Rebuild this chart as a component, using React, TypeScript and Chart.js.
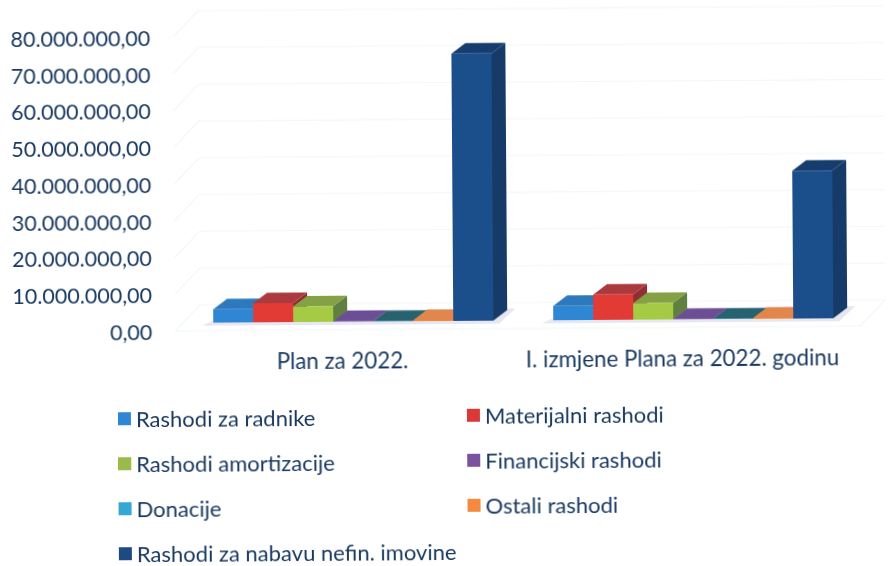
import React, { useEffect, useRef } from "react";
import { Chart, registerables } from "chart.js";

Chart.register(...registerables);

const categories = ["Plan za 2022.", "I. izmjene Plana za 2022. godinu"];
const seriesNames = [
  "Rashodi za radnike",
  "Materijalni rashodi",
  "Rashodi amortizacije",
  "Financijski rashodi",
  "Donacije",
  "Ostali rashodi",
  "Rashodi za nabavu nefin. imovine",
];
const rashodiZaRadnike = [3600000, 3900000];
const materijalniRashodi = [5200000, 6900000];
const rashodiAmortizacije = [4200000, 4500000];
const financijskiRashodi = [120000, 100000];
const donacije = [60000, 60000];
const ostaliRashodi = [250000, 250000];
const nabavaNefinImovine = [72700000, 40200000];
const seriesValues = [
  rashodiZaRadnike,
  materijalniRashodi,
  rashodiAmortizacije,
  financijskiRashodi,
  donacije,
  ostaliRashodi,
  nabavaNefinImovine,
];
const yTickLabels = [
  "0,00",
  "10.000.000,00",
  "20.000.000,00",
  "30.000.000,00",
  "40.000.000,00",
  "50.000.000,00",
  "60.000.000,00",
  "70.000.000,00",
  "80.000.000,00",
];

const frontColors = ["#2f86d2", "#e23b36", "#a5cb45", "#7d509f", "#36a9d6", "#f08a3f", "#1b4f8c"];
const topColors = ["#2d79bd", "#ab3a3e", "#84a245", "#6c4e94", "#27626f", "#e2864c", "#163d6e"];
const sideColors = ["#256aa8", "#8f2f33", "#5f8040", "#553a78", "#1f5460", "#b8662f", "#173b68"];
const legendColors = ["#2f86d2", "#d93a38", "#9cba4c", "#7a52a0", "#33a8d4", "#f58a3e", "#1d4a80"];

const TEXT = "#17375e";
const FONT = "Lato, sans-serif";
const DX = 14;
const DY = 10.5;

const threeD = {
  id: "threeD",
  beforeDatasetsDraw(chart: any) {
    const { ctx, scales } = chart;
    const y = scales.y;
    const x = scales.x;
    const base = y.getPixelForValue(0);
    ctx.save();
    // back wall and floor lines
    ctx.strokeStyle = "#f0f7fa";
    ctx.lineWidth = 1.2;
    y.ticks.forEach((t: any) => {
      const p = y.getPixelForValue(t.value);
      ctx.beginPath();
      ctx.moveTo(x.left - 8, p + 8);
      ctx.lineTo(x.left + 17, p - 18);
      ctx.lineTo(x.right + 22, p - 18);
      ctx.stroke();
    });
    ctx.beginPath();
    ctx.moveTo(x.left - 8, base + 8);
    ctx.lineTo(x.right - 3, base + 8);
    ctx.lineTo(x.right + 22, base - 18);
    ctx.stroke();

    const metas = seriesValues.map((_, i) => chart.getDatasetMeta(i));
    // group shadows
    categories.forEach((_, c) => {
      const a = metas[0].data[c];
      const b = metas[metas.length - 1].data[c];
      const L = a.x - a.width / 2;
      const R = b.x + b.width / 2;
      ctx.fillStyle = "#e6e7f0";
      ctx.beginPath();
      ctx.moveTo(L - 11, base + 3);
      ctx.lineTo(R + 6, base + 3);
      ctx.lineTo(R + 22, base - 12);
      ctx.lineTo(L + 22, base - 12);
      ctx.closePath();
      ctx.fill();
    });
    // sides and tops
    categories.forEach((_, c) => {
      metas.forEach((m: any, s: number) => {
        const el = m.data[c];
        const l = el.x - el.width / 2;
        const r = el.x + el.width / 2;
        const t = el.y;
        ctx.fillStyle = sideColors[s];
        ctx.beginPath();
        ctx.moveTo(r, t);
        ctx.lineTo(r + DX, t - DY);
        ctx.lineTo(r + DX, base - DY);
        ctx.lineTo(r, base);
        ctx.closePath();
        ctx.fill();
        ctx.fillStyle = topColors[s];
        ctx.beginPath();
        ctx.moveTo(l, t);
        ctx.lineTo(l + DX, t - DY);
        ctx.lineTo(r + DX, t - DY);
        ctx.lineTo(r, t);
        ctx.closePath();
        ctx.fill();
      });
    });
    ctx.restore();
  },
};

export default function App() {
  const ref = useRef<HTMLCanvasElement | null>(null);
  useEffect(() => {
    document.body.style.margin = "0";
    const chart = new Chart(ref.current as HTMLCanvasElement, {
      type: "bar",
      data: {
        labels: categories,
        datasets: seriesNames.map((name, i) => ({
          label: name,
          data: seriesValues[i],
          backgroundColor: frontColors[i],
          borderWidth: 0,
          categoryPercentage: 280 / 340,
          barPercentage: 1,
        })),
      },
      options: {
        responsive: false,
        animation: false,
        layout: { padding: { top: 27, right: 27, left: 0, bottom: 0 } },
        plugins: { legend: { display: false }, tooltip: { enabled: false } },
        scales: {
          x: {
            grid: { display: false },
            border: { display: false },
            afterFit(s: any) {
              s.height = 245;
              s.paddingLeft = 0;
              s.paddingRight = 0;
            },
            ticks: {
              color: TEXT,
              font: { family: FONT, size: 22.3 },
              padding: 18,
              labelOffset: -11,
              maxRotation: 0,
              autoSkip: false,
            },
          },
          y: {
            min: 0,
            max: 80000000,
            grid: { display: false, drawTicks: false },
            border: { display: false },
            afterFit(s: any) {
              s.width = 183;
              s.paddingTop = 0;
              s.paddingBottom = 0;
            },
            ticks: {
              stepSize: 10000000,
              color: TEXT,
              font: { family: FONT, size: 21.5 },
              padding: 31,
              labelOffset: 10,
              callback: (_v: any, i: number) => yTickLabels[i],
            },
          },
        },
      },
      plugins: [threeD],
    } as any);
    return () => chart.destroy();
  }, []);

  return (
    <div
      style={{
        position: "absolute",
        left: 0,
        top: 0,
        width: 890,
        height: 566,
        overflow: "hidden",
        background: "#fff",
      }}
    >
      <div
        style={{
          position: "absolute",
          left: 0,
          top: 0,
          width: 890,
          height: 566,
          transform: "rotate(-0.4deg)",
          transformOrigin: "445px 283px",
        }}
      >
        <canvas ref={ref} width={890} height={566} style={{ display: "block" }} />
        {seriesNames.map((name, i) => (
          <div
            key={name}
            style={{
              position: "absolute",
              left: i % 2 === 0 ? 117 : 466,
              top: 402 + Math.floor(i / 2) * 45 - (i % 2),
              height: 28,
              display: "flex",
              alignItems: "center",
              fontFamily: FONT,
              fontSize: 22,
              color: TEXT,
              whiteSpace: "nowrap",
            }}
          >
            <span
              style={{
                width: 13,
                height: 13,
                background: legendColors[i],
                marginRight: 5,
                display: "inline-block",
              }}
            />
            {name}
          </div>
        ))}
      </div>
    </div>
  );
}
